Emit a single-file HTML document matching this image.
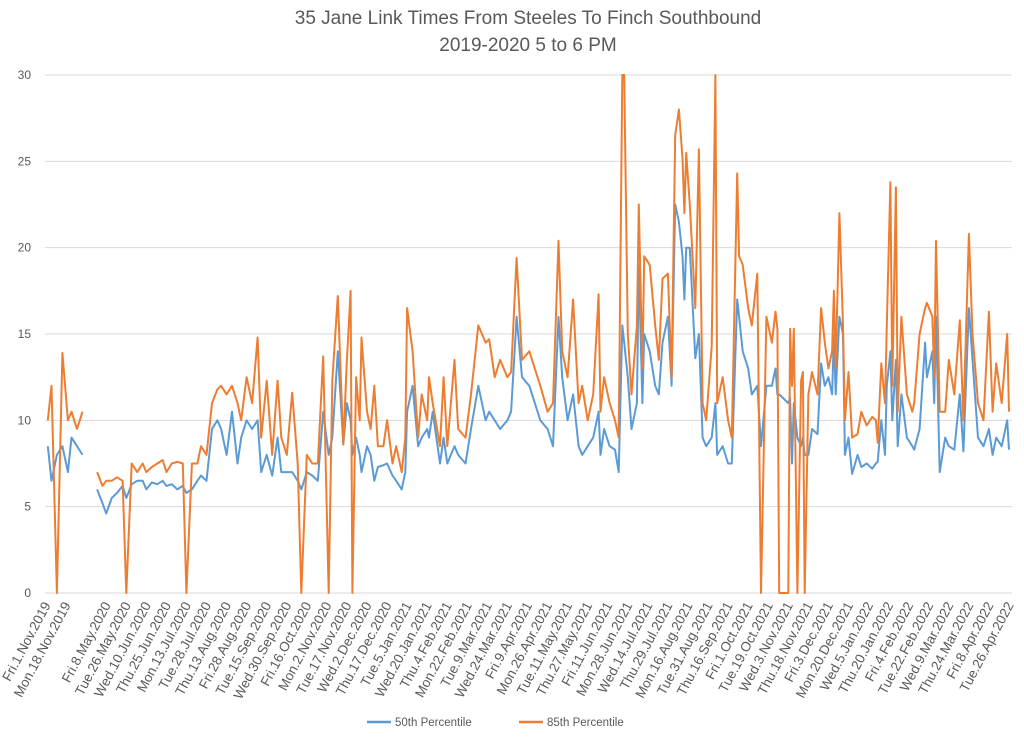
<!DOCTYPE html>
<html><head><meta charset="utf-8">
<style>
html,body{margin:0;padding:0;background:#fff;}
svg{display:block;font-family:"Liberation Sans",sans-serif;}
</style></head>
<body>
<svg id="chart" width="1024" height="739" viewBox="0 0 1024 739" xmlns="http://www.w3.org/2000/svg">
<rect width="1024" height="739" fill="#fff"/>
<text x="528" y="24" text-anchor="middle" font-size="19" fill="#595959">35 Jane Link Times From Steeles To Finch Southbound</text>
<text x="528" y="51" text-anchor="middle" font-size="19" fill="#595959">2019-2020 5 to 6 PM</text>
<g id="grid"></g><g id="yticks"></g><g id="xticks"></g><g id="series"></g>
<g>
<line x1="367" y1="722" x2="391" y2="722" stroke="#5b9bd5" stroke-width="2.5"/>
<text x="395" y="726" font-size="11.5" fill="#595959">50th Percentile</text>
<line x1="519" y1="722" x2="543" y2="722" stroke="#ed7d31" stroke-width="2.5"/>
<text x="547" y="726" font-size="11.5" fill="#595959">85th Percentile</text>
</g>
</svg>
<script>
const dayIdx=[1,3,6,9,12,14,17,20,24,28,31,33,36,39,42,44,47,50,53,55,58,61,64,66,69,72,75,77,80,83,85,88,91,94,96,99,102,105,107,110,113,116,118,121,124,127,129,132,135,138,140,143,146,149,152,155,157,160,163,165,167,168,170,172,173,176,178,180,182,185,187,190,192,195,197,198,201,204,206,209,210,212,216,218,220,224,226,230,233,237,241,243,246,249,253,255,258,261,265,271,275,278,281,283,286,289,292,294,297,300,303,304,306,309,312,314,316,317,319,321,324,325,327,328,331,334,336,338,341,343,345,347,349,350,351,353,356,358,360,362,365,367,368,371,374,376,379,380,382,385,387,390,392,395,398,400,401,402,407,408,409,410,412,414,415,416,418,420,423,425,427,429,431,432,433,435,437,438,440,442,445,447,450,453,455,456,458,460,461,463,464,466,467,469,472,475,476,479,482,483,486,487,488,490,493,495,498,501,503,506,508,511,514,517,519,521,524,527,528];
const p50=[8.5,6.5,8,8.5,7,9,8.5,8,null,6,5.2,4.6,5.5,5.8,6.2,5.5,6.3,6.5,6.5,6,6.4,6.3,6.5,6.2,6.3,6,6.2,5.8,6,6.5,6.8,6.5,9.5,10,9.5,8,10.5,7.5,9,10,9.5,10,7,8,6.8,9,7,7,7,6.5,6,7,6.8,6.5,10.5,8,9,14,8.6,11,10,8,9,8,7,8.5,8,6.5,7.3,7.4,7.5,6.8,6.5,6,7,10.5,12,8.5,9,9.5,9,10.5,7.5,9,7.5,8.5,8,7.5,9.5,12,10,10.5,10,9.5,10,10.5,16,12.5,12,10,9.5,8.5,16,12.5,10,11.5,8.5,8,8.5,9,10.5,8,9.5,8.5,8.3,7,15.5,14.5,12.5,9.5,11,19,11,15,14,12,11.5,14.5,16,12,22.5,21.5,19.5,17,20,20,13.6,15,9,8.5,9,11,8,8.5,7.5,7.5,17,16,14,13,11.5,12,8.5,12,12,13,11.5,11.5,11,11.3,7.5,11,9,8.5,9,8,8,9.5,9.2,13.3,12,12.5,11.5,15,11.5,16,15,8,9,6.9,8,7.3,7.5,7.2,7.5,7.6,10,8,12,14,10,13.5,8.5,11.5,9,8.5,8.3,9.5,14.5,12.5,14,11,16,7,9,8.5,8.3,11.5,8.2,16.5,13.5,9,8.5,9.5,8,9,8.5,10,8.3];
const p85=[10,12,0,13.9,10,10.5,9.5,10.5,null,7,6.2,6.5,6.5,6.7,6.5,0,7.5,7,7.5,7,7.3,7.5,7.7,7,7.5,7.6,7.5,0,7.5,7.5,8.5,8,11,11.8,12,11.5,12,11,10,12.5,11,14.8,9,12.3,8,12.3,9,8,11.6,7.5,0,8,7.5,7.5,13.7,0,12.3,17.2,8.6,13.5,17.5,0,12.5,10,14.8,10.5,9.5,12,8.5,8.5,10,7.5,8.5,7,9,16.5,14,9,11.5,10,12.5,11,8.5,12.5,8.5,13.5,9.5,9,11.5,15.5,14.5,14.7,12.5,13.5,12.5,12.8,19.4,13.5,14,12,10.5,11,20.4,14,12.5,17,11,12,10,11.5,17.3,10.5,12.5,11,10,9,30,30,15,11.5,15.5,22.5,13,19.5,19,15.5,13.5,18.2,18.5,12.5,26.5,28,25.2,22,25.5,22.5,16.5,25.7,11,10,14.3,30,11,12.5,10,9,24.3,19.5,19,16.5,15.5,18.5,0,16,14.5,16.3,15.3,0,0,15.3,12,15.3,0,12.3,12.8,0,11.5,12.8,11.5,16.5,14.5,13,14,17.5,13,22,15.5,10,12.8,9,9.2,10.5,9.7,10.2,10,8.7,13.3,11,15.5,23.8,12,23.5,10.5,16,11.5,10.5,11,15,16.5,16.8,16,12.5,20.4,10.5,10.5,13.5,11.5,15.8,10,20.8,15,11,10,16.3,10.5,13.3,11,15,10.5];
const xLabels=["Fri.1.Nov.2019","Mon.18.Nov.2019","Fri.8.May.2020","Tue.26.May.2020","Wed.10.Jun.2020","Thu.25.Jun.2020","Mon.13.Jul.2020","Tue.28.Jul.2020","Thu.13.Aug.2020","Fri.28.Aug.2020","Tue.15.Sep.2020","Wed.30.Sep.2020","Fri.16.Oct.2020","Mon.2.Nov.2020","Tue.17.Nov.2020","Wed.2.Dec.2020","Thu.17.Dec.2020","Tue.5.Jan.2021","Wed.20.Jan.2021","Thu.4.Feb.2021","Mon.22.Feb.2021","Tue.9.Mar.2021","Wed.24.Mar.2021","Fri.9.Apr.2021","Mon.26.Apr.2021","Tue.11.May.2021","Thu.27.May.2021","Fri.11.Jun.2021","Mon.28.Jun.2021","Wed.14.Jul.2021","Thu.29.Jul.2021","Mon.16.Aug.2021","Tue.31.Aug.2021","Thu.16.Sep.2021","Fri.1.Oct.2021","Tue.19.Oct.2021","Wed.3.Nov.2021","Thu.18.Nov.2021","Fri.3.Dec.2021","Mon.20.Dec.2021","Wed.5.Jan.2022","Thu.20.Jan.2022","Fri.4.Feb.2022","Tue.22.Feb.2022","Wed.9.Mar.2022","Thu.24.Mar.2022","Fri.8.Apr.2022","Tue.26.Apr.2022"];
const xLabelIdx=[0,11,33,44,55,66,77,88,99,110,121,132,143,154,165,176,187,198,209,220,231,242,253,264,275,286,297,308,319,330,341,352,363,374,385,396,407,418,429,440,451,462,473,484,495,506,517,528];
const yTicks=[0,5,10,15,20,25,30];

const NS="http://www.w3.org/2000/svg";
const X0=46,X1=1009,IMAX=528,PL=45,PR=1012,Y0=593,Y1=75,VMAX=30;
function xs(i){return X0+i*(X1-X0)/IMAX;}
function ys(v){return Y0-Math.min(v,VMAX)*(Y0-Y1)/VMAX;}
function mk(t,a,p){const e=document.createElementNS(NS,t);for(const k in a)e.setAttribute(k,a[k]);p.appendChild(e);return e;}
const grid=document.getElementById('grid'),yt=document.getElementById('yticks'),xt=document.getElementById('xticks'),ser=document.getElementById('series');
yTicks.forEach(v=>{
  const l=mk('line',{x1:PL,x2:PR,y1:ys(v),y2:ys(v),stroke:'#d9d9d9','stroke-width':1},grid);
  
  
  const t=mk('text',{x:31,y:ys(v)+4,'text-anchor':'end','font-size':12,fill:'#595959'},yt);
  t.textContent=v;
  
  
});
xLabels.forEach((s,k)=>{
  const x=xs(xLabelIdx[k])+5,y=605;
  const t=mk('text',{x:x,y:y,'text-anchor':'end','font-size':13.5,fill:'#595959',transform:`rotate(-62 ${x} ${y})`},xt);
  t.textContent=s;
  
  
});
function path(vals){
  let d='',pen=false;
  for(let i=0;i<dayIdx.length;i++){
    const v=vals[i];
    if(v===null){pen=false;continue;}
    d+=(pen?'L':'M')+xs(dayIdx[i]).toFixed(1)+' '+ys(v).toFixed(1)+' ';pen=true;
  }
  return d;
}
const s1=mk('path',{d:path(p50),fill:'none',stroke:'#5b9bd5','stroke-width':2,'stroke-linejoin':'round'},ser);


const s2=mk('path',{d:path(p85),fill:'none',stroke:'#ed7d31','stroke-width':2,'stroke-linejoin':'round'},ser);


</script>
</body></html>
